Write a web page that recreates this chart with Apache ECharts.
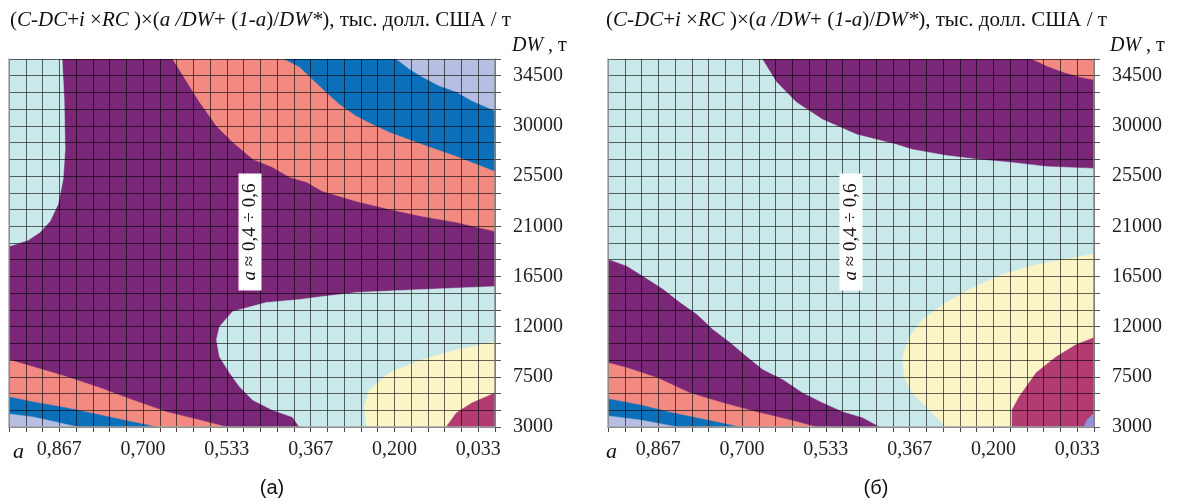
<!DOCTYPE html>
<html><head><meta charset="utf-8">
<script src="https://cdn.jsdelivr.net/npm/echarts@6/dist/echarts.min.js"></script>
<style>html,body{margin:0;padding:0;background:#fff;}#c{width:1177px;height:501px;}</style>
</head><body><div id="c"></div><script>
// ---- axis ticks ----
const X_TICK_VALUES = [0.867, 0.700, 0.533, 0.367, 0.200, 0.033];
const X_TICK_LABELS = ['0,867', '0,700', '0,533', '0,367', '0,200', '0,033'];
const Y_TICK_LABELS = [3000, 7500, 12000, 16500, 21000, 25500, 30000, 34500];
const A_MIN = 0, A_MAX = 29 / 30, A_STEP = 1 / 30;
const DW_MIN = 3000, DW_MAX = 36000, DW_STEP = 1500;

// ---- panel (a): contour boundaries [a, DW] ----
const A_CYAN_TOPLEFT = [[0.861,36000],[0.857,32430],[0.855,27930],[0.859,25230],[0.869,22980],[0.885,21450],[0.905,20460],[0.929,19740],[0.967,19200]];
const A_SALMON_TOP = [[0.641,36000],[0.613,33960],[0.588,32160],[0.554,30000],[0.522,28560],[0.482,27030],[0.443,26310],[0.409,25410],[0.375,24960],[0.343,24150],[0.276,23250],[0.210,22530],[0.145,21900],[0.077,21360],[0,20550]];
const A_BLUE_TOP = [[0.419,36000],[0.389,35310],[0.343,33330],[0.310,31980],[0.276,30900],[0.244,30180],[0.210,29460],[0.145,28380],[0.077,27300],[0,25950]];
const A_LAVENDER_TOP = [[0.196,36000],[0.171,35130],[0.145,34410],[0.111,33600],[0.077,33060],[0.046,32250],[0,31350]];
const A_CYAN_MID = [[0,15600],[0.145,15330],[0.276,15060],[0.343,14700],[0.389,14430],[0.455,14160],[0.522,13350],[0.548,12000],[0.554,10830],[0.548,9300],[0.528,7860],[0.508,6600],[0.482,5430],[0.443,4530],[0.403,3900],[0.389,3000]];
const A_YELLOW = [[0.256,3000],[0.260,4800],[0.250,6330],[0.210,7860],[0.145,9030],[0.077,9930],[0,10650]];
const A_CRIMSON = [[0.097,3000],[0.077,4260],[0.046,5160],[0,6060]];
const A_SALMON_BL = [[0.967,9030],[0.919,8400],[0.852,7500],[0.786,6510],[0.721,5430],[0.653,4350],[0.588,3630],[0.534,3000]];
const A_BLUE_BL = [[0.967,5700],[0.919,5250],[0.852,4710],[0.786,4080],[0.721,3450],[0.673,3000]];
const A_LAVENDER_BL = [[0.967,4170],[0.919,3900],[0.865,3360],[0.830,3000]];

// ---- panel (б): contour boundaries [a, DW] ----
const B_PURPLE_TOP = [[0.659,36000],[0.631,33960],[0.592,32160],[0.540,30630],[0.472,29280],[0.393,28380],[0.361,27930],[0.294,27390],[0.228,27030],[0.163,26760],[0.095,26400],[0,26220]];
const B_SALMON_TOP = [[0.123,36000],[0.095,35400],[0.063,34860],[0.030,34410],[0,34140]];
const B_PURPLE_BL = [[0.967,18030],[0.929,17400],[0.897,16500],[0.857,15330],[0.824,14160],[0.790,13080],[0.758,11730],[0.724,10560],[0.691,9300],[0.659,8130],[0.619,7230],[0.580,6060],[0.540,5160],[0.500,4350],[0.460,3810],[0.427,3000]];
const B_SALMON_BL = [[0.967,8760],[0.929,8310],[0.869,7410],[0.804,6060],[0.738,5160],[0.671,4350],[0.605,3630],[0.552,3000]];
const B_BLUE_BL = [[0.967,5520],[0.903,4980],[0.838,4260],[0.770,3630],[0.705,3000]];
const B_LAVENDER_BL = [[0.967,3990],[0.903,3630],[0.828,3000]];
const B_YELLOW = [[0,18480],[0.063,18030],[0.129,17400],[0.194,16500],[0.248,15330],[0.294,14160],[0.341,12630],[0.367,11100],[0.381,9300],[0.377,7500],[0.361,6060],[0.328,4530],[0.294,3000]];
const B_CRIMSON = [[0.163,3000],[0.163,4530],[0.149,5700],[0.115,7860],[0.075,9300],[0.036,10380],[0,11010]];
const B_VIOLET = [[0.020,3000],[0.014,3630],[0,4260]];

// ---- colours ----
const C = {
  cyan: '#c9e8ea', purple: '#7a2777', salmon: '#f28a82', blue: '#0b6fba',
  lavender: '#b6bee2', yellow: '#fbf4c6', crimson: '#b23b72', violet: '#8d95d6'
};

const CORNER = {
  TL: [A_MAX, DW_MAX], TR: [A_MIN, DW_MAX], BL: [A_MAX, DW_MIN], BR: [A_MIN, DW_MIN]
};
const FULL = [CORNER.TL, CORNER.TR, CORNER.BR, CORNER.BL];
function region(curve, corners, color) {
  return { pts: curve.concat(corners.map(c => CORNER[c])), color };
}
const REGIONS_A = [
  { pts: FULL, color: C.purple },
  region(A_CYAN_TOPLEFT, ['TL'], C.cyan),
  region(A_SALMON_TOP, ['TR'], C.salmon),
  region(A_BLUE_TOP, ['TR'], C.blue),
  region(A_LAVENDER_TOP, ['TR'], C.lavender),
  region(A_CYAN_MID, ['BR'], C.cyan),
  region(A_YELLOW, ['BR'], C.yellow),
  region(A_CRIMSON, ['BR'], C.crimson),
  region(A_SALMON_BL, ['BL'], C.salmon),
  region(A_BLUE_BL, ['BL'], C.blue),
  region(A_LAVENDER_BL, ['BL'], C.lavender)
];
const REGIONS_B = [
  { pts: FULL, color: C.cyan },
  region(B_PURPLE_TOP, ['TR'], C.purple),
  region(B_SALMON_TOP, ['TR'], C.salmon),
  region(B_PURPLE_BL, ['BL'], C.purple),
  region(B_SALMON_BL, ['BL'], C.salmon),
  region(B_BLUE_BL, ['BL'], C.blue),
  region(B_LAVENDER_BL, ['BL'], C.lavender),
  region(B_YELLOW, ['BR'], C.yellow),
  region(B_CRIMSON, ['BR'], C.crimson),
  region(B_VIOLET, ['BR'], C.violet)
];

const clampA = a => Math.max(A_MIN, Math.min(A_MAX, a));
function contourSeries(regions, idx) {
  return {
    type: 'custom', xAxisIndex: idx, yAxisIndex: idx, silent: true, animation: false,
    clip: true, z: 2,
    data: regions.map((r, i) => [i, DW_MIN]),
    renderItem: function (params, api) {
      const r = regions[params.dataIndex];
      const points = r.pts.map(p => api.coord([clampA(p[0]) / A_STEP, p[1]]));
      return { type: 'polygon', z2: params.dataIndex, shape: { points },
        style: { fill: r.color, stroke: r.color, lineWidth: 0.5 } };
    }
  };
}

const SERIF = 'Liberation Serif, Times New Roman, serif';
const GRID_LINE = 'rgba(0,0,0,0.6)';
function xLabel(k) {
  const a = k * A_STEP;
  const i = X_TICK_VALUES.findIndex(v => Math.abs(v - a) < 0.002);
  return i >= 0 ? X_TICK_LABELS[i] : '';
}
function yLabel(v) {
  const r = Math.round(v);
  return Y_TICK_LABELS.includes(r) ? String(r) : '';
}
const grids = [
  { left: 9, top: 59, width: 486, height: 368 },
  { left: 608, top: 59, width: 486, height: 368 }
];
const xAxes = [], yAxes = [];
[0, 1].forEach(g => {
  xAxes.push({
    gridIndex: g, type: 'value', min: A_MIN / A_STEP, max: A_MAX / A_STEP, interval: 1, inverse: true, z: 5,
    axisLine: { show: true, onZero: false, lineStyle: { color: '#444', width: 1 } },
    axisTick: { show: true, length: 5, lineStyle: { color: '#444' } },
    axisLabel: { formatter: xLabel, fontFamily: SERIF, fontSize: 20, color: '#222', margin: 13 },
    splitLine: { show: true, lineStyle: { color: GRID_LINE, width: 1 } }
  });
  yAxes.push({
    gridIndex: g, type: 'value', position: 'right', offset: 8, min: DW_MIN, max: DW_MAX, interval: DW_STEP, z: 5,
    axisLine: { show: true, lineStyle: { color: '#888', width: 1.5 } },
    axisTick: { show: true, length: 6, lineStyle: { color: '#555' } },
    axisLabel: { formatter: yLabel, fontFamily: SERIF, fontSize: 20, color: '#222', margin: 10 },
    splitLine: { show: true, lineStyle: { color: GRID_LINE, width: 1 } }
  });
});
[0, 1].forEach(g => {
  xAxes.push({
    gridIndex: g, type: 'value', position: 'top', min: 0, max: 1, z: 6,
    axisLine: { show: true, lineStyle: { color: '#a4a4a4', width: 1.5 } },
    axisTick: { show: false }, axisLabel: { show: false }, splitLine: { show: false }
  });
  yAxes.push({
    gridIndex: g, type: 'value', position: 'left', min: 0, max: 1, z: 6,
    axisLine: { show: true, lineStyle: { color: '#a4a4a4', width: 1.5 } },
    axisTick: { show: false }, axisLabel: { show: false }, splitLine: { show: false }
  });
});

const ITAL = { fontStyle: 'italic', fontFamily: SERIF, fontSize: 21, fill: '#111' };
const TITLE_TEXT = '({i|C-DC}+{i|i} ×{i|RC} )×({i|a /DW}+ ({i|1-a})/{i|DW*}), тыс. долл. США / т';
const AXIS_NAME = '{i|DW} , т';
const BOX_TEXT = '{i|a} ≈ 0,4 ÷ 0,6';
function titleEl(x) {
  return { type: 'text', left: x, top: 10, z: 100,
    style: { text: TITLE_TEXT, fontFamily: SERIF, fontSize: 21, fill: '#111', rich: { i: ITAL } } };
}
function nameEl(x) {
  return { type: 'text', left: x, top: 36, z: 100,
    style: { text: AXIS_NAME, fontFamily: SERIF, fontSize: 20, fill: '#111', rich: { i: Object.assign({}, ITAL, { fontSize: 20 }) } } };
}
function boxEl(x, y) {
  return { type: 'text', x: x, y: y, rotation: Math.PI / 2, z: 100,
    style: { text: BOX_TEXT, fontFamily: SERIF, fontSize: 19, fill: '#111', rich: { i: Object.assign({}, ITAL, { fontSize: 19 }) },
      align: 'center', verticalAlign: 'middle', backgroundColor: '#fff', padding: [2, 10] } };
}
function aEl(x) {
  return { type: 'text', x: x, y: 452, z: 100,
    style: { text: 'a', fontFamily: SERIF, fontStyle: 'italic', fontSize: 22, fill: '#111', verticalAlign: 'middle' } };
}
function panelEl(x, t) {
  return { type: 'text', x: x, y: 488, z: 100,
    style: { text: t, fontFamily: 'Liberation Sans, Arial, sans-serif', fontSize: 20, fill: '#111', align: 'center', verticalAlign: 'middle' } };
}

const chart = echarts.init(document.getElementById('c'), null, { renderer: 'canvas' });
chart.setOption({
  animation: false,
  backgroundColor: '#fff',
  grid: grids,
  xAxis: xAxes,
  yAxis: yAxes,
  series: [contourSeries(REGIONS_A, 0), contourSeries(REGIONS_B, 1)],
  graphic: [
    titleEl(10), titleEl(606), nameEl(512), nameEl(1110),
    boxEl(250, 232), boxEl(851, 232),
    aEl(13), aEl(606),
    panelEl(272, '(а)'), panelEl(876, '(б)')
  ]
});
</script></body></html>
